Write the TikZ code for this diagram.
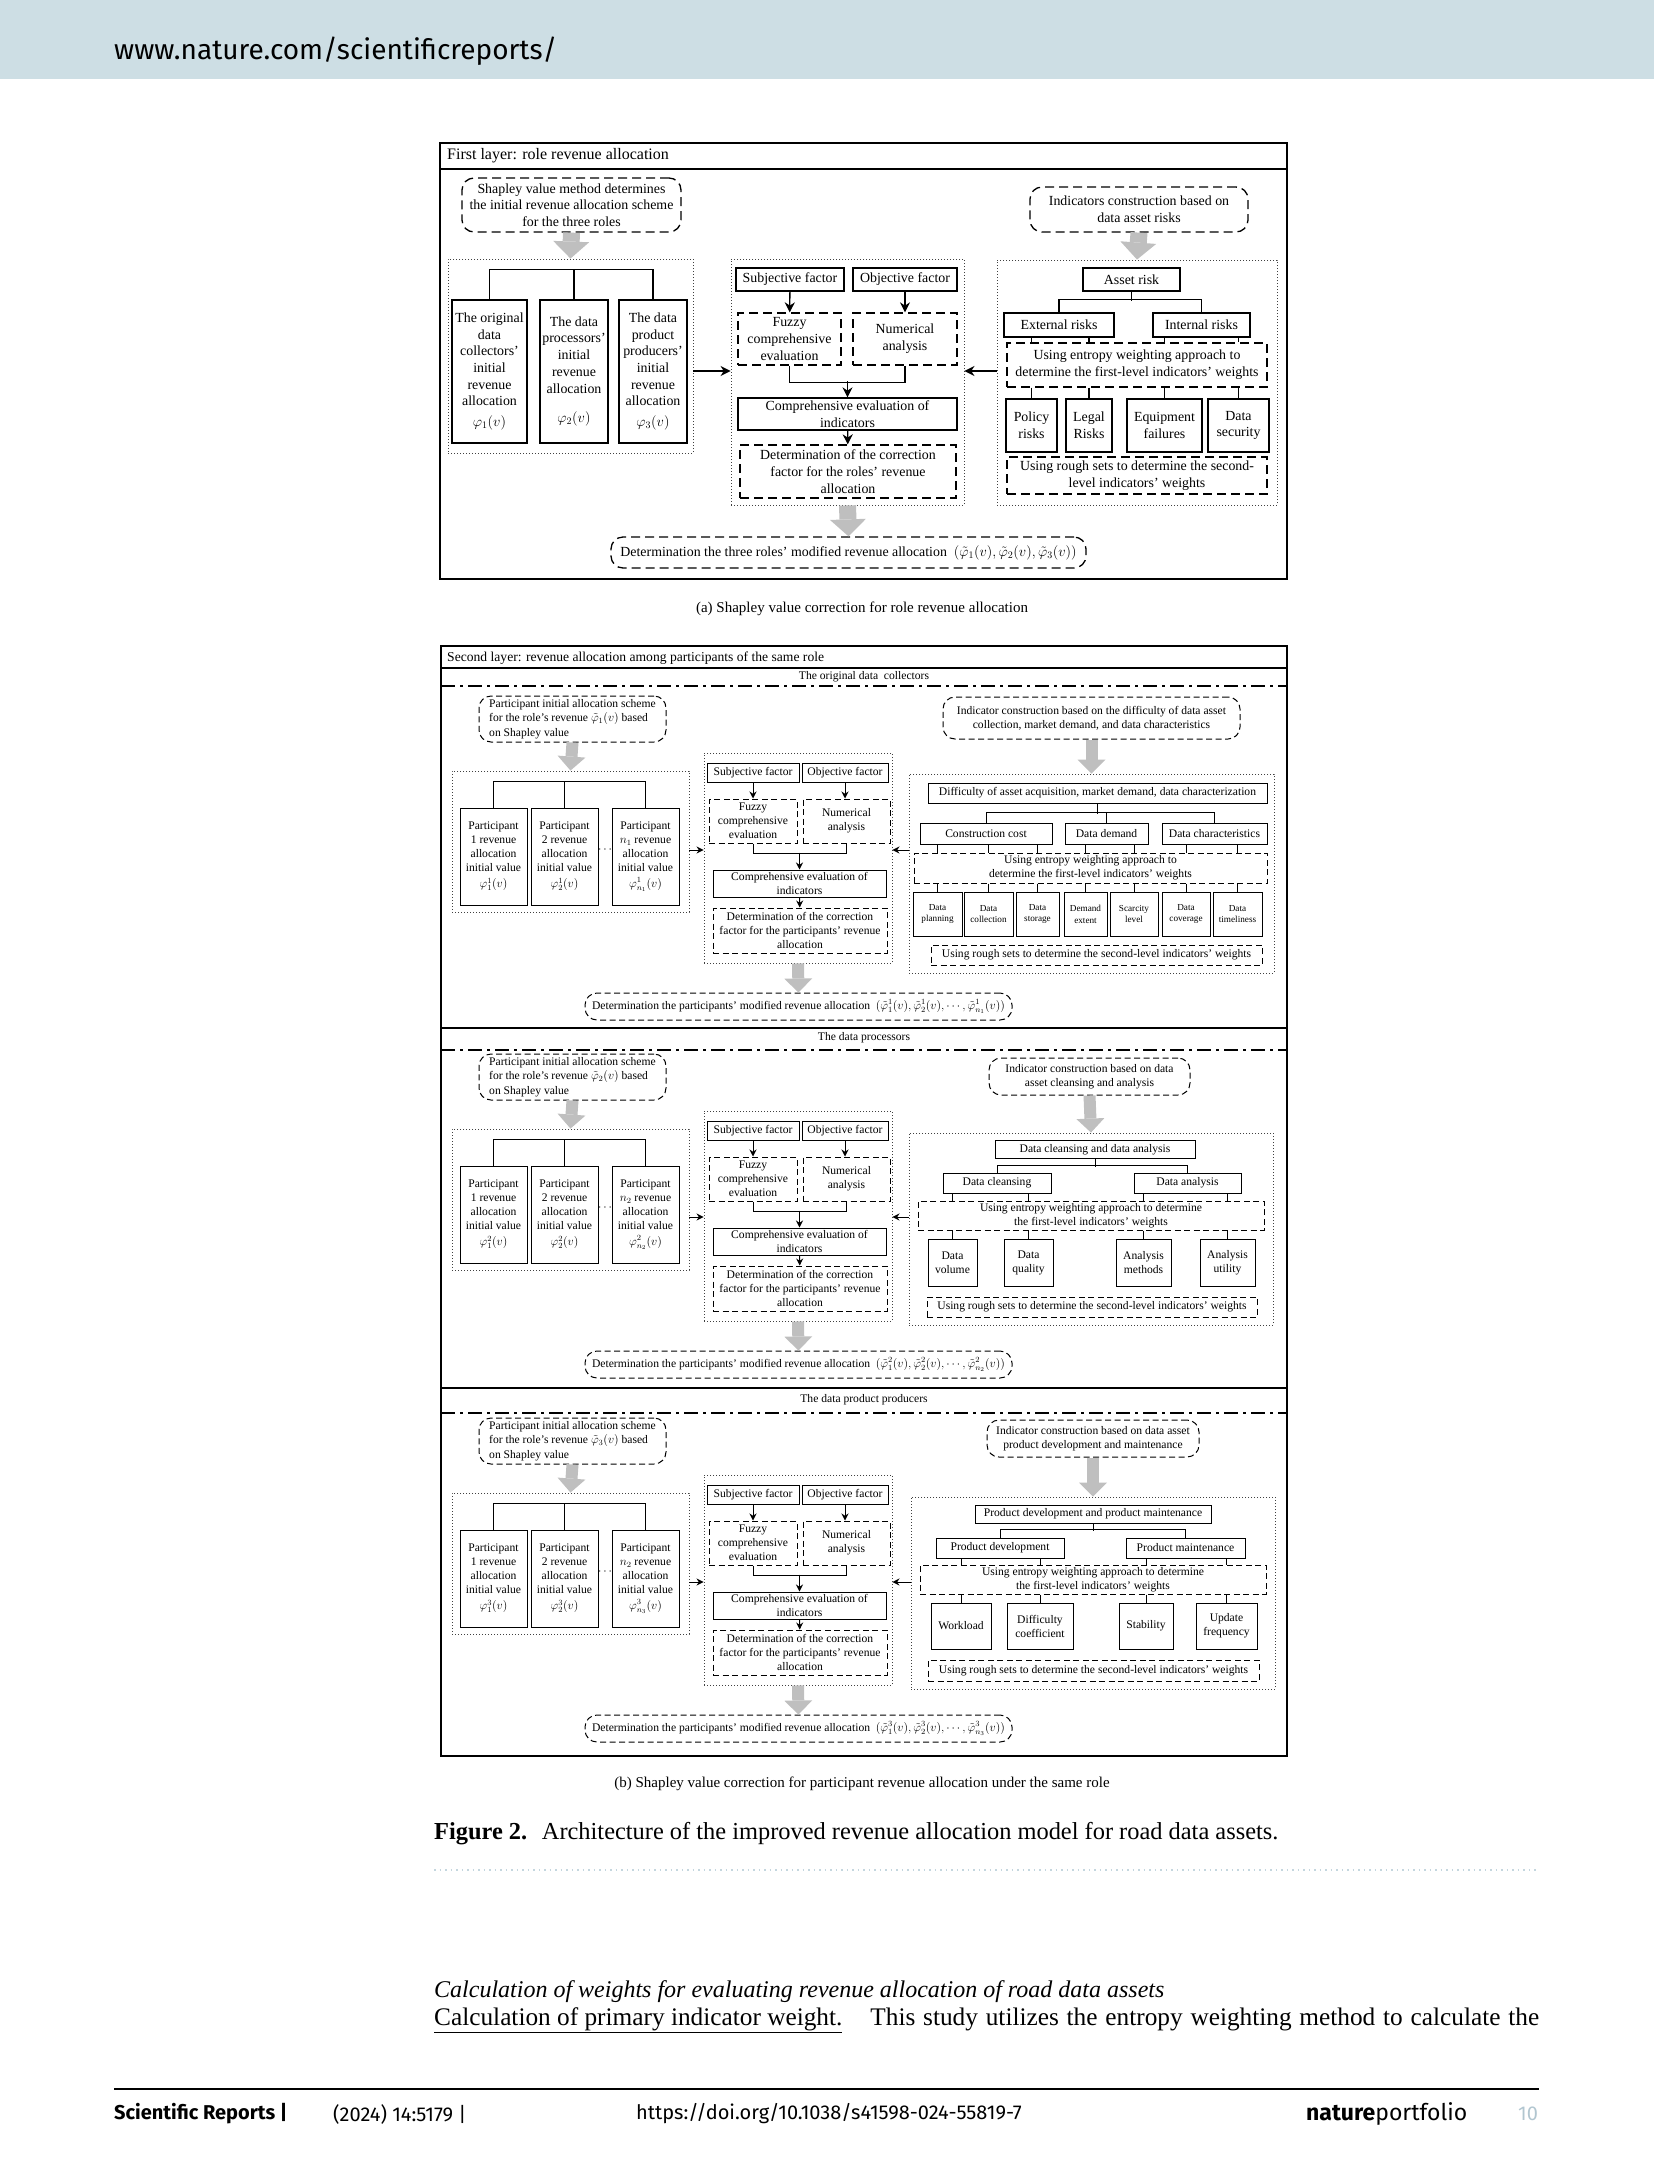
\documentclass[tikz,border=0pt]{standalone}
\usepackage{fontspec}
\setmainfont{Liberation Serif}
\newfontfamily\pagesans{Fira Sans}
\usetikzlibrary{arrows.meta}
\definecolor{bandblue}{RGB}{205,222,228}
\definecolor{arrowgrey}{RGB}{191,191,191}
\definecolor{pagegrey}{RGB}{178,198,208}
\definecolor{dotblue}{RGB}{196,214,222}
\newcommand{\fsa}{\fontsize{13.9}{16.7}\selectfont}
\newcommand{\fsb}{\fontsize{11.6}{14}\selectfont}
\newcommand{\fsc}{\fontsize{9.2}{11.7}\selectfont}
\tikzset{
  sz/.style 2 args={minimum width=#1*1pt, minimum height=#2*1pt},
  plainbox/.style={draw, inner sep=1pt, align=center},
  dashbox/.style={draw, inner sep=1pt, align=center},
  roundbox/.style={dashbox, rounded corners=12pt},
  dotgroup/.style={draw=black!75, line width=0.9pt, dash pattern=on 0.9pt off 2.1pt, inner sep=0pt},
  arr/.style={-{Stealth[length=#1, width=#1]}},
  fat/.style n args={3}{draw=arrowgrey, line width=#1pt, -{Triangle[width=#2pt, length=#3pt, line width=0pt]}},
  pagetext/.style={anchor=west, inner sep=0pt}
}
\begin{document}
\begin{tikzpicture}[x=1pt, y=-1pt]
\useasboundingbox (0,0) rectangle (1654,2174);
% page head
\fill[bandblue] (0,0) rectangle (1654,79);
\node[pagetext, font=\pagesans\fontsize{28}{30}\selectfont] (site) at (114,51) {www.nature.com/scientificreports/};

% first layer
\draw[line width=1.6pt] (440,143) rectangle (1287,579);
\draw[line width=1.6pt] (440,169) -- (1287,169);
\node[pagetext, font=\fontsize{16}{18}\selectfont] (ttla) at (447,156) {First layer: role revenue allocation};
\begin{scope}[font=\fsa, line width=1.3pt, dashbox/.append style={dash pattern=on 9pt off 5pt}]
  \node[roundbox, sz={219}{54}] (shap) at (571.5,205) {Shapley value method determines\\the initial revenue allocation scheme\\for the three roles};
  \node[dotgroup, sz={245}{194}] (lgrp) at (570.5,356) {};
  \node[plainbox, sz={75}{143}] (r1) at (489.5,371.5) {The original\\data\\collectors'\\initial\\revenue\\allocation\\[4pt]$\varphi_1(v)$};
  \node[plainbox, sz={68}{143}] (r2) at (574,371.5) {The data\\processors'\\initial\\revenue\\allocation\\[13pt]$\varphi_2(v)$};
  \node[plainbox, sz={68}{143}] (r3) at (653,371.5) {The data\\product\\producers'\\initial\\revenue\\allocation\\[4pt]$\varphi_3(v)$};
  \draw (r1.north) -- ++(0,-30) -| (r3.north);
  \draw (r2.north) -- ++(0,-30);
  \draw[fat={17}{36}{17}] (shap.south) -- (lgrp.north);

  \node[dotgroup, sz={233}{246}] (cgrp) at (847.5,382) {};
  \node[plainbox, sz={108}{23}] (subj) at (790,279.5) {Subjective factor};
  \node[plainbox, sz={104}{23}] (obj) at (905,279.5) {Objective factor};
  \node[dashbox, sz={103}{52}] (fuzzy) at (789.5,339) {Fuzzy\\comprehensive\\evaluation};
  \node[dashbox, sz={104}{52}] (numer) at (905,339) {Numerical\\analysis};
  \node[plainbox, sz={219}{32}] (comp) at (847.5,414) {Comprehensive evaluation of\\indicators};
  \node[dashbox, sz={216}{53}] (det) at (848,471.5) {Determination of the correction\\factor for the roles' revenue\\allocation};
  \node[roundbox, sz={475}{31}] (final) at (848.5,552.5) {Determination the three roles' modified revenue allocation\ \ $(\tilde{\varphi}_1(v),\tilde{\varphi}_2(v),\tilde{\varphi}_3(v))$};
  \draw[arr=10pt] (subj) -- (fuzzy);
  \draw[arr=10pt] (obj) -- (numer);
  \draw (fuzzy.south) -- ++(0,17) -| (numer.south);
  \draw[arr=10pt] ([yshift=16pt]comp.north) -- (comp.north);
  \draw[arr=10pt] (comp) -- (det);
  \draw[fat={17}{36}{17}] (cgrp.south) -- (final.north);

  \node[roundbox, sz={218}{45}] (ind) at (1139,209.5) {Indicators construction based on\\data asset risks};
  \node[dotgroup, sz={280}{245}] (rgrp) at (1137,382.5) {};
  \node[plainbox, sz={97}{23}] (asset) at (1131.5,279.5) {Asset risk};
  \node[plainbox, sz={110}{24}] (ext) at (1059,325) {External risks};
  \node[plainbox, sz={97}{24}] (intr) at (1201.5,325) {Internal risks};
  \node[dashbox, sz={260}{44}] (enta) at (1137,365) {Using entropy weighting approach to\\determine the first-level indicators' weights};
  \node[plainbox, sz={51}{53}] (pol) at (1031.5,425.5) {Policy\\risks};
  \node[plainbox, sz={46}{53}] (leg) at (1089,425.5) {Legal\\Risks};
  \node[plainbox, sz={75}{53}] (equ) at (1164.5,425.5) {Equipment\\failures};
  \node[plainbox, sz={61}{53}] (dsec) at (1238.5,425.5) {Data\\security};
  \node[dashbox, sz={260}{37}] (rougha) at (1137,475.5) {Using rough sets to determine the second-\\level indicators' weights};
  \draw[fat={17}{36}{17}] (ind.south) -- (rgrp.north);
  \draw (asset.south) -- ++(0,9);
  \draw (ext.north) -- ++(0,-13) -| (intr.north);
  \foreach \lf/\up in {pol/ext, leg/ext, equ/intr, dsec/intr}{
    \draw (\lf.north |- \up.south) -- (\lf.north |- enta.north);
    \draw (\lf.north |- enta.south) -- (\lf.north);
  }
  \coordinate (aya) at (0,371);
  \draw[arr=10pt] (lgrp.east |- aya) -- (cgrp.west |- aya);
  \draw[arr=10pt] (rgrp.west |- aya) -- (cgrp.east |- aya);
\end{scope}
\node[font=\fontsize{15}{18}\selectfont] (capa) at (862,609) {(a) Shapley value correction for role revenue allocation};

% second layer
\draw[line width=1.6pt] (441,646) rectangle (1287,1756);
\draw[line width=1.6pt] (441,668) -- (1287,668);
\foreach \yy in {1028,1388} \draw[line width=1.6pt] (441,\yy) -- (1287,\yy);
\foreach \yy in {686,1050,1413} \draw[line width=1.2pt, dash pattern=on 14pt off 5pt on 3pt off 5pt] (441,\yy) -- (1287,\yy);
\node[pagetext, font=\fontsize{13.6}{16}\selectfont] (ttlb) at (447,658) {Second layer: revenue allocation among participants of the same role};
\node[font=\fsb, inner sep=0pt] (lbl1) at (864,677) {The original data\ \ collectors};
\node[font=\fsb, inner sep=0pt] (lbl2) at (864,1038) {The data processors};
\node[font=\fsb, inner sep=0pt] (lbl3) at (864,1400) {The data product producers};

\begin{scope}[font=\fsb, line width=1pt, dashbox/.append style={dash pattern=on 6pt off 3.5pt}]
  % collectors
  \node[roundbox, sz={297}{42}] (ind1) at (1091.5,718) {Indicator construction based on the difficulty of data asset\\collection, market demand, and data characteristics};
  \node[dotgroup, sz={365}{199}] (rg1) at (1091.5,873.5) {};
  \node[plainbox, sz={339}{20}] (top1) at (1097.5,793) {Difficulty of asset acquisition, market demand, data characterization};
  \node[plainbox, sz={132}{21}] (cost) at (986,833.5) {Construction cost};
  \node[plainbox, sz={83}{21}] (dmd) at (1106.5,833.5) {Data demand};
  \node[plainbox, sz={105}{21}] (chr) at (1214.5,833.5) {Data characteristics};
  \node[dashbox, sz={353}{30}] (ent1) at (1090.5,868) {Using entropy weighting approach to\\determine the first-level indicators' weights};
  \foreach \lf/\xx/\ww/\up/\tx in {lf1/937.5/49/cost/{Data\\planning}, lf2/988.5/49/cost/{Data\\collection}, lf3/1037.5/43/cost/{Data\\storage}, lf4/1085.5/43/dmd/{Demand\\extent}, lf5/1134/48/dmd/{Scarcity\\level}, lf6/1186/48/chr/{Data\\coverage}, lf7/1237.5/49/chr/{Data\\timeliness}}{
    \node[plainbox, font=\fsc, sz={\ww}{44}] (\lf) at (\xx,914) {\tx};
    \draw (\lf.north |- \up.south) -- (\lf.north |- ent1.north);
    \draw (\lf.north |- ent1.south) -- (\lf.north);
  }
  \node[dashbox, sz={331}{20}] (rough1) at (1096.5,955) {Using rough sets to determine the second-level indicators' weights};
  \draw[fat={12}{28}{14}] (ind1.south) -- (rg1.north);
  \draw (top1.south) -- ++(0,10);
  \draw (cost.north) -- ++(0,-10) -| (chr.north);
  \draw (dmd.north) -- ++(0,-10);

  % processors
  \node[roundbox, sz={201}{37}] (ind2) at (1089.5,1076.5) {Indicator construction based on data\\asset cleansing and analysis};
  \node[dotgroup, sz={364}{192}] (rg2) at (1091,1229) {};
  \node[plainbox, sz={200}{18}] (top2) at (1095,1149.5) {Data cleansing and data analysis};
  \node[plainbox, sz={108}{20}] (cln) at (997,1183) {Data cleansing};
  \node[plainbox, sz={107}{20}] (ana) at (1187.5,1183) {Data analysis};
  \node[dashbox, sz={346}{29}] (ent2) at (1091,1215.5) {Using entropy weighting approach to determine\\the first-level indicators' weights};
  \foreach \lf/\xx/\ww/\up/\tx in {vol/952.5/49/cln/{Data\\volume}, qua/1028.5/49/cln/{Data\\quality}, mth/1143.5/55/ana/{Analysis\\methods}, utl/1227.5/55/ana/{Analysis\\utility}}{
    \node[plainbox, sz={\ww}{47}] (\lf) at (\xx,1262.5) {\tx};
    \draw (\lf.north |- \up.south) -- (\lf.north |- ent2.north);
    \draw (\lf.north |- ent2.south) -- (\lf.north);
  }
  \node[dashbox, sz={330}{20}] (rough2) at (1092,1307) {Using rough sets to determine the second-level indicators' weights};
  \draw[fat={12}{28}{14}] (ind2.south) -- (rg2.north);
  \draw (top2.south) -- ++(0,8);
  \draw (cln.north) -- ++(0,-7) -| (ana.north);

  % product producers
  \node[roundbox, sz={212}{37}] (ind3) at (1093,1438.5) {Indicator construction based on data asset\\product development and maintenance};
  \node[dotgroup, sz={364}{192}] (rg3) at (1093,1593) {};
  \node[plainbox, sz={236}{18}] (top3) at (1093,1514) {Product development and product maintenance};
  \node[plainbox, sz={128}{20}] (dev) at (1000,1548) {Product development};
  \node[plainbox, sz={119}{20}] (mnt) at (1185.5,1548) {Product maintenance};
  \node[dashbox, sz={346}{29}] (ent3) at (1093,1579.5) {Using entropy weighting approach to determine\\the first-level indicators' weights};
  \foreach \lf/\xx/\ww/\up/\tx in {wrk/961/60/dev/{Workload}, dif/1040/66/dev/{Difficulty\\coefficient}, stb/1146/54/mnt/{Stability}, upd/1226.5/61/mnt/{Update\\frequency}}{
    \node[plainbox, sz={\ww}{46}] (\lf) at (\xx,1626) {\tx};
    \draw (\lf.north |- \up.south) -- (\lf.north |- ent3.north);
    \draw (\lf.north |- ent3.south) -- (\lf.north);
  }
  \node[dashbox, sz={331}{21}] (rough3) at (1093.5,1670.5) {Using rough sets to determine the second-level indicators' weights};
  \draw[fat={12}{28}{14}] (ind3.south) -- (rg3.north);
  \draw (top3.south) -- ++(0,7);
  \draw (dev.north) -- ++(0,-8) -| (mnt.north);

  % same layout for the three roles
  \foreach \s/\dy/\nn/\ay in {1/0/1/850, 2/358/2/859, 3/722/2/860}{
    \begin{scope}[shift={(0,\dy)}]
      \node[roundbox, sz={187}{46}, align=left, font=\fontsize{11.6}{14.6}\selectfont] (pin\s) at (572.5,719) {Participant initial allocation scheme\\for the role's revenue $\tilde{\varphi}_\s(v)$ based\\on Shapley value};
      \node[dotgroup, sz={237}{141}] (lg\s) at (570.5,841.5) {};
      \node[plainbox, sz={67}{97}] (pa\s) at (493.5,856.5) {Participant\\1 revenue\\allocation\\initial value\\[2pt]$\varphi^\s_1(v)$};
      \node[plainbox, sz={67}{97}] (pb\s) at (564.5,856.5) {Participant\\2 revenue\\allocation\\initial value\\[2pt]$\varphi^\s_2(v)$};
      \node[plainbox, sz={67}{97}] (pc\s) at (645.5,856.5) {Participant\\$n_\nn$ revenue\\allocation\\initial value\\[2pt]$\varphi^\s_{n_\s}(v)$};
      \node[inner sep=0pt] (dt\s) at (605,850) {$\cdots$};
      \draw (pa\s.north) -- ++(0,-26) -| (pc\s.north);
      \draw (pb\s.north) -- ++(0,-26);
      \draw[fat={12}{28}{14}] (pin\s.south) -- (lg\s.north);

      \node[dotgroup, sz={188}{210}] (cg\s) at (798,858) {};
      \node[plainbox, sz={92}{19}] (sj\s) at (753,772.5) {Subjective factor};
      \node[plainbox, sz={86}{19}] (ob\s) at (845,772.5) {Objective factor};
      \node[dashbox, sz={88}{44}] (fz\s) at (753,821) {Fuzzy\\comprehensive\\evaluation};
      \node[dashbox, sz={87}{44}] (nm\s) at (846.5,821) {Numerical\\analysis};
      \node[plainbox, sz={173}{27}] (cm\s) at (799.5,883.5) {Comprehensive evaluation of\\indicators};
      \node[dashbox, sz={174}{45}] (dm\s) at (800,930.5) {Determination of the correction\\factor for the participants' revenue\\allocation};
      \node[roundbox, sz={427}{27}] (fm\s) at (798.5,1006.5) {Determination the participants' modified revenue allocation\ \ $(\tilde{\varphi}^\s_1(v),\tilde{\varphi}^\s_2(v),\cdots,\tilde{\varphi}^\s_{n_\s}(v))$};
      \draw[arr=7pt] (sj\s) -- (fz\s);
      \draw[arr=7pt] (ob\s.south) -- (ob\s.south |- nm\s.north);
      \draw (fz\s.south) -- ++(0,10) -| (nm\s.south);
      \draw[arr=7pt] ([yshift=17pt]cm\s.north) -- (cm\s.north);
      \draw[arr=7pt] (cm\s) -- (dm\s);
      \draw[fat={12}{28}{14}] (cg\s.south) -- (fm\s.north);
      \coordinate (ay\s) at (0,\ay);
      \draw[arr=7pt] (lg\s.east |- ay\s) -- (cg\s.west |- ay\s);
      \draw[arr=7pt] (rg\s.west |- ay\s) -- (cg\s.east |- ay\s);
    \end{scope}
  }
\end{scope}
\node[font=\fontsize{15}{18}\selectfont] (capb) at (862,1784) {(b) Shapley value correction for participant revenue allocation under the same role};

% caption and text below
\node[pagetext, font=\fontsize{24.4}{28}\selectfont] (figcap) at (434,1834) {\textbf{Figure 2.}\hspace{0.6em}Architecture of the improved revenue allocation model for road data assets.};
\draw[dotblue, line width=1.5pt, dash pattern=on 1.5pt off 4pt] (434,1870) -- (1539,1870);
\node[pagetext, font=\fontsize{24}{28}\selectfont\itshape] (subhd) at (434,1992) {Calculation of weights for evaluating revenue allocation of road data assets};
\node[pagetext, font=\fontsize{25.3}{28}\selectfont] (bodyln) at (434,2020) {\makebox[1105pt][s]{\underline{Calculation of primary indicator weight.}\hspace{0.8em} This study utilizes the entropy weighting method to calculate the}};

% page foot
\draw[line width=1.5pt] (114,2089) -- (1539,2089);
\node[pagetext, font=\pagesans\fontsize{20}{24}\selectfont\bfseries] (jname) at (114,2114) {Scientific Reports |};
\node[pagetext, font=\pagesans\fontsize{20}{24}\selectfont] (jyear) at (333,2114) {(2024) 14:5179 |};
\node[pagetext, font=\pagesans\fontsize{20}{24}\selectfont] (jdoi) at (636,2114) {https://doi.org/10.1038/s41598-024-55819-7};
\node[pagetext, font=\pagesans\fontsize{23}{26}\selectfont] (jlogo) at (1306,2114) {\textbf{nature}portfolio};
\node[pagetext, font=\pagesans\fontsize{20}{24}\selectfont, text=pagegrey] (jpage) at (1518,2114) {10};
\end{tikzpicture}
\end{document}
